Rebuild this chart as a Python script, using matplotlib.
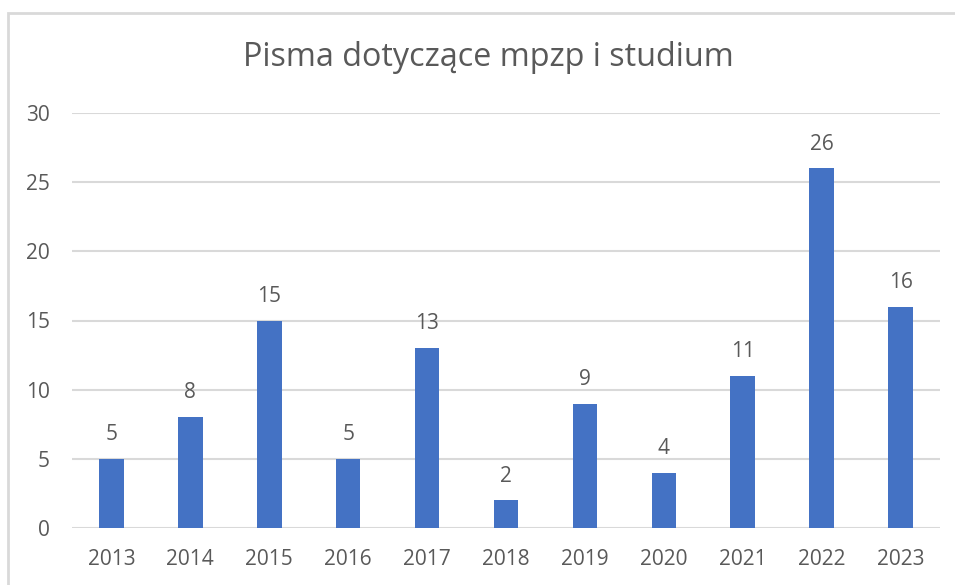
import matplotlib.pyplot as plt
from matplotlib.patches import Rectangle

years = ['2013', '2014', '2015', '2016', '2017', '2018', '2019', '2020', '2021', '2022', '2023']
counts = [5, 8, 15, 5, 13, 2, 9, 4, 11, 26, 16]
title = 'Pisma dotyczące mpzp i studium'

plt.rcParams['font.family'] = ['Open Sans', 'DejaVu Sans']
text_color = '#595959'

fig = plt.figure(figsize=(9.55, 5.85), dpi=100)
ax = fig.add_axes([72 / 955, 1 - 528 / 585, (940 - 72) / 955, (528 - 113) / 585])

x = range(len(years))
ax.bar(x, counts, width=0.31, color='#4472C4', zorder=3)
for i, v in zip(x, counts):
    ax.text(i, v + 1.0, str(v), ha='center', va='bottom', fontsize=15, color=text_color)

ax.set_xlim(-0.5, len(years) - 0.5)
ax.set_ylim(0, 30)
ax.set_yticks(range(0, 31, 5))
ax.set_xticks(list(x))
ax.set_xticklabels(years)
ax.grid(axis='y', color='#D9D9D9', linewidth=1.5, zorder=0)
for s in ax.spines.values():
    s.set_visible(False)
ax.tick_params(length=0, labelsize=15, colors=text_color)
ax.tick_params(axis='x', pad=15)
ax.tick_params(axis='y', pad=16)

fig.text(488 / 955, 1 - 58 / 585, title, ha='center', va='center', fontsize=23.3, color=text_color)

# chart frame
fig.patches.append(Rectangle((8 / 955, -0.1), 1.2, 1 - 13 / 585 + 0.1, transform=fig.transFigure,
                             fill=False, edgecolor='#D9D9D9', linewidth=2))

fig.savefig('out.png', dpi=100)
